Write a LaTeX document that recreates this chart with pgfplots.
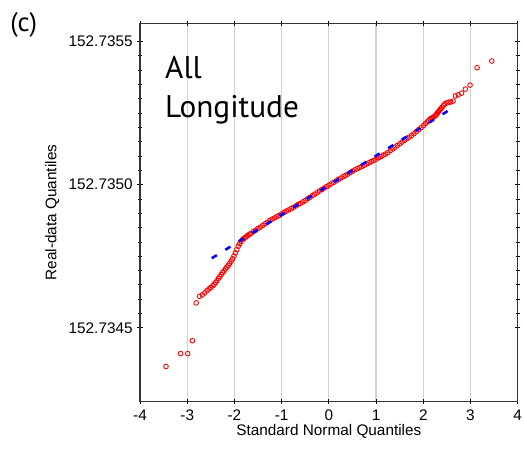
\documentclass[border=0pt]{standalone}
\usepackage{fontspec}
\setmainfont{Liberation Sans}
\newfontfamily\ptsans{PT Sans}
\usepackage{pgfplots}
\usepackage{pgfplotstable}
\pgfplotsset{compat=1.18}

% y values as (q - 152.7350)*1e4
\pgfplotstableread{
x v
-3.45 -6.35
-3.14 -5.90
-2.99 -5.90
-2.89 -5.45
-2.81 -4.13
-2.74 -3.90
-2.68 -3.85
-2.63 -3.78
-2.58 -3.70
-2.54 -3.64
-2.50 -3.59
-2.46 -3.53
-2.43 -3.48
-2.40 -3.42
-2.37 -3.35
-2.34 -3.28
-2.31 -3.21
-2.28 -3.14
-2.25 -3.07
-2.22 -3.01
-2.19 -2.94
-2.16 -2.88
-2.13 -2.82
-2.10 -2.75
-2.07 -2.67
-2.04 -2.59
-2.01 -2.49
-1.98 -2.38
-1.95 -2.27
-1.92 -2.15
-1.89 -2.06
-1.86 -1.98
-1.83 -1.92
-1.80 -1.88
-1.77 -1.84
-1.74 -1.80
-1.71 -1.77
-1.68 -1.73
-1.65 -1.70
-1.60 -1.64
-1.55 -1.59
-1.50 -1.53
-1.45 -1.48
-1.40 -1.42
-1.35 -1.36
-1.30 -1.31
-1.25 -1.25
-1.20 -1.20
-1.15 -1.16
-1.10 -1.11
-1.05 -1.07
-1.00 -1.02
-0.95 -0.97
-0.90 -0.92
-0.85 -0.88
-0.80 -0.83
-0.75 -0.79
-0.70 -0.74
-0.65 -0.69
-0.60 -0.65
-0.55 -0.60
-0.50 -0.55
-0.45 -0.49
-0.40 -0.44
-0.35 -0.38
-0.30 -0.33
-0.25 -0.28
-0.20 -0.22
-0.15 -0.17
-0.10 -0.12
-0.05 -0.07
0.00 -0.02
0.05 0.03
0.10 0.08
0.15 0.13
0.20 0.18
0.25 0.23
0.30 0.28
0.35 0.32
0.40 0.37
0.45 0.42
0.50 0.47
0.55 0.52
0.60 0.56
0.65 0.60
0.70 0.64
0.75 0.68
0.80 0.72
0.85 0.77
0.90 0.81
0.95 0.85
1.00 0.89
1.05 0.94
1.10 0.98
1.15 1.03
1.20 1.07
1.25 1.12
1.30 1.19
1.35 1.25
1.40 1.31
1.45 1.37
1.50 1.43
1.55 1.49
1.60 1.55
1.65 1.61
1.70 1.66
1.75 1.72
1.80 1.78
1.85 1.85
1.90 1.92
1.95 1.99
2.00 2.06
2.04 2.13
2.08 2.19
2.11 2.24
2.14 2.29
2.17 2.32
2.20 2.35
2.23 2.38
2.26 2.42
2.28 2.46
2.30 2.51
2.32 2.55
2.34 2.59
2.36 2.63
2.38 2.67
2.40 2.71
2.43 2.78
2.46 2.83
2.50 2.86
2.54 2.88
2.58 2.89
2.63 2.92
2.68 3.10
2.74 3.14
2.81 3.20
2.89 3.34
2.99 3.48
3.14 4.09
3.45 4.32
}\qqdata

\begin{document}
\begin{tikzpicture}
\begin{axis}[
  set layers,
  scale only axis,
  width=283.3pt, height=283.8pt,
  xmin=-4, xmax=4,
  ymin=-7.58, ymax=5.64,
  xtick={-4,-3,...,4},
  ytick={-5,0,5},
  yticklabels={152.7345,152.7350,152.7355},
  minor y tick num=9,
  xmajorgrids,
  grid style={black!18, line width=0.9pt},
  tick align=center,
  major tick length=4pt,
  minor tick length=3pt,
  tick style={black, line width=0.6pt},
  axis line style={black!80, line width=0.8pt},
  /pgf/number format/assume math mode=true,
  ticklabel style={font=\fontsize{11.5}{13}\selectfont},
  xticklabel style={anchor=base, yshift=-12.2pt},
  label style={font=\fontsize{11.5}{13}\selectfont},
  xlabel={Standard Normal Quantiles},
  xlabel style={at={(axis description cs:0.5,-0.09)}, anchor=base},
  ylabel={Real-data Quantiles},
  ylabel style={at={(axis description cs:-0.232,0.5)}, anchor=center, rotate=0},
  clip=false,
]
\addplot[only marks, mark=o, mark size=1.75pt, red, mark options={line width=0.65pt}] table[x=x, y=v] {\qqdata};
\addplot[blue, line width=1.9pt, dash pattern=on 4.5pt off 7.5pt, on layer=axis foreground] coordinates {(-2.48,-2.57) (2.60,2.66)};
\node[anchor=base west, inner sep=0, font=\ptsans\fontsize{23.5}{28}\selectfont] at (axis description cs:0.066,0.855) {All};
\node[anchor=base west, inner sep=0, font=\ptsans\fontsize{23.5}{28}\selectfont] at (axis description cs:0.066,0.752) {Longitude};
\node[anchor=north west, inner sep=0, font=\ptsans\fontsize{20}{24}\selectfont] at (axis description cs:-0.344,1.030) {(c)};
\end{axis}
\pgfresetboundingbox
\path (current axis.south west) ++(-105pt,-37pt) rectangle ++(393pt,338.25pt);
\end{tikzpicture}
\end{document}
